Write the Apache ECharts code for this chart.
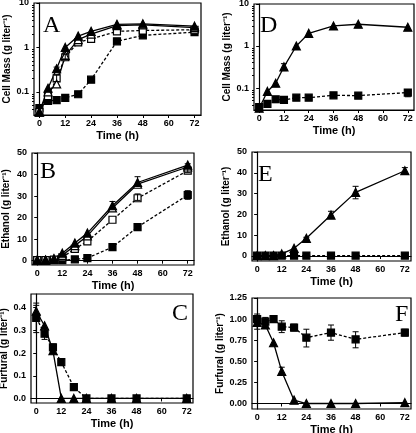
<!DOCTYPE html>
<html><head><meta charset="utf-8">
<script src="https://cdn.jsdelivr.net/npm/echarts@6/dist/echarts.min.js"></script>
<style>html,body{margin:0;padding:0;background:#fff}#c{width:416px;height:433px}</style>
</head><body><div id="c"></div>
<script>
// ---- data ----
const hours = [0, 4, 8, 12, 18, 24, 36, 48, 72];
const xTicks = [0, 12, 24, 36, 48, 60, 72];

// Panel A: cell mass (g/L), log scale
const aFilledTri = [0.035, 0.12, 0.33, 1.0, 1.8, 2.3, 3.3, 3.4, 3.0];
const aOpenTri   = [0.035, 0.10, 0.15, 0.65, 1.5, 2.0, 3.1, 3.2, 2.8];
const aOpenSq    = [0.035, 0.08, 0.20, 0.60, 1.3, 1.55, 2.3, 2.4, 2.5];
const aFilledSq  = [0.043, 0.062, 0.065, 0.073, 0.088, 0.187, 1.37, 1.87, 2.2];
const aErr = [[8, 0.17, 0.24], [12, 0.55, 0.7], [8, 0.28, 0.36]];

// Panel B: ethanol (g/L)
const bFilledTri = [0.3, 0.3, 1.0, 3.5, 8.2, 12.8, 25.5, 36.3, 44.4];
const bOpenTri   = [0.3, 0.3, 0.6, 2.5, 7.0, 11.5, 24.5, 35.5, 43.5];
const bOpenSq    = [0.3, 0.3, 0.5, 1.5, 5.5, 9.0, 19.0, 29.0, 41.8];
const bFilledSq  = [0.3, 0.3, 0.3, 0.3, 0.6, 1.2, 6.3, 15.6, 30.5];
const bErr = [[48, 34.5, 39], [36, 24, 27.5], [72, 43, 45], [48, 28, 31], [48, 14.5, 17], [72, 28.5, 32.5], [72, 41, 43]];

// Panel C: furfural (g/L)
const cTri = [0.384, 0.32, 0.21, 0.0, 0.0, 0.0, 0.0, 0.0, 0.0];
const cSq  = [0.355, 0.285, 0.225, 0.16, 0.05, 0.0, 0.0, 0.0, 0.0];
const cErr = [[0, 0.29, 0.41], [0, 0.37, 0.42], [4, 0.26, 0.31], [8, 0.2, 0.24], [18, 0.04, 0.065]];

// Panel D: cell mass (g/L), log scale
const dTri = [0.033, 0.083, 0.13, 0.32, 1.0, 2.0, 3.0, 3.3, 2.8];
const dSq  = [0.035, 0.042, 0.054, 0.052, 0.059, 0.059, 0.067, 0.066, 0.078];
const dErr = [[12, 0.26, 0.38], [8, 0.045, 0.06], [72, 0.062, 0.09]];

// Panel E: ethanol (g/L)
const eTri = [0.2, 0.2, 0.2, 1.0, 3.7, 8.5, 19.7, 30.6, 41.0];
const eSq  = [0.2, 0.2, 0.2, 0.2, 0.2, 0.2, 0.2, 0.2, 0.2];
const eErr = [[72, 39.5, 42.5], [48, 27.5, 33.5], [36, 18, 21.5], [24, 8, 9]];

// Panel F: furfural (g/L)
const fTri = [0.96, 0.93, 0.72, 0.38, 0.04, 0.0, 0.0, 0.0, 0.01];
const fSq  = [1.0, 0.97, 1.0, 0.91, 0.9, 0.78, 0.84, 0.76, 0.84];
const fErr = [[0, 0.94, 1.06], [4, 0.92, 1.02], [12, 0.84, 0.98], [18, 0.86, 0.94], [24, 0.67, 0.88], [36, 0.75, 0.93], [48, 0.66, 0.85], [72, 0.8, 0.88], [0, 0.88, 1.04], [12, 0.34, 0.43]];

const logMajor = [0.1, 1, 10];
const logMinor = [0.04,0.05,0.06,0.07,0.08,0.09,0.2,0.3,0.4,0.5,0.6,0.7,0.8,0.9,2,3,4,5,6,7,8,9];

// ---- layout ----
const FONT = 'Liberation Sans';
const grids = [
  {left: 34, top: 3, width: 167, height: 112},   // A
  {left: 32, top: 153, width: 162, height: 112}, // B
  {left: 31, top: 294, width: 162, height: 109}, // C
  {left: 254, top: 4, width: 160, height: 106},  // D
  {left: 252, top: 152, width: 159, height: 109},// E
  {left: 252, top: 298, width: 159, height: 111} // F
].map(g => Object.assign({show: true, borderColor: '#000', borderWidth: 1.2, backgroundColor: 'transparent', outerBoundsMode: 'none'}, g));

const xAxes = grids.map((g, i) => ({
  gridIndex: i, type: 'value', min: -2.5, max: 75,
  name: 'Time (h)', nameLocation: 'middle', nameGap: 15,
  nameTextStyle: {fontFamily: FONT, fontSize: 11, fontWeight: 'bold', color: '#000'},
  axisLine: {lineStyle: {color: '#000', width: 1.2}},
  axisTick: {customValues: xTicks, length: 3, lineStyle: {color: '#000', width: 1}},
  axisLabel: {customValues: xTicks, margin: 4, fontFamily: FONT, fontSize: 9, fontWeight: 'bold', color: '#000'},
  splitLine: {show: false}
}));

function yName(t) {
  return {name: t, nameLocation: 'middle', nameGap: 21,
    nameTextStyle: {fontFamily: FONT, fontSize: 10, fontWeight: 'bold', color: '#000'}};
}
function linY(i, min, max, ticks, dec, nm) {
  return Object.assign({
    gridIndex: i, type: 'value', min: min, max: max, position: 'left',
    axisLine: {show: true, lineStyle: {color: '#000', width: 1.2}},
    axisTick: {show: true, customValues: ticks, length: 3, lineStyle: {color: '#000', width: 1}},
    axisLabel: {customValues: ticks, margin: 5, fontFamily: FONT, fontSize: 9, fontWeight: 'bold', color: '#000',
      formatter: v => dec == null ? String(v) : Number(v).toFixed(dec)},
    splitLine: {show: false}
  }, yName(nm));
}
function logY(i, nm) {
  return Object.assign({
    gridIndex: i, type: 'log', logBase: 10, min: 0.03, max: 10, position: 'left',
    axisLine: {show: true, lineStyle: {color: '#000', width: 1.2}},
    axisTick: {show: true, customValues: logMajor, length: 3, lineStyle: {color: '#000', width: 1}},
    axisLabel: {customValues: logMajor, margin: 5, fontFamily: FONT, fontSize: 9, fontWeight: 'bold', color: '#000',
      formatter: v => String(+Number(v).toPrecision(3))},
    splitLine: {show: false}
  }, yName(nm));
}
function logMinorY(i) {
  return {gridIndex: i, type: 'log', logBase: 10, min: 0.03, max: 10, position: 'left', offset: 0,
    axisLine: {show: false, onZero: false}, axisLabel: {show: false}, splitLine: {show: false},
    axisTick: {show: true, customValues: logMinor, length: 2, lineStyle: {color: '#000', width: 1}}};
}
const massName = 'Cell Mass (g liter\u207B\u00B9)';
const ethName = 'Ethanol (g liter\u207B\u00B9)';
const furName = 'Furfural (g liter\u207B\u00B9)';
const yAxes = [
  logY(0, massName),                       // 0 A
  linY(1, -2, 50, [0,10,20,30,40,50], null, ethName), // 1 B
  linY(2, -0.02, 0.46, [0,0.1,0.2,0.3,0.4], 1, furName), // 2 C
  logY(3, massName),                       // 3 D
  linY(4, -2.4, 50, [0,10,20,30,40,50], null, ethName), // 4 E
  linY(5, -0.065, 1.25, [0,0.25,0.5,0.75,1.0,1.25], 2, furName), // 5 F
  logMinorY(0),                            // 6
  logMinorY(3)                             // 7
];

function pts(arr) { return hours.map((h, k) => [h, arr[k]]); }
function line(panel, arr, sym, filled, dashed) {
  return {type: 'line', xAxisIndex: panel, yAxisIndex: panel, data: pts(arr),
    symbol: sym, symbolSize: sym === 'triangle' ? 8 : 7, animation: false,
    lineStyle: {color: '#000', width: 1.3, type: dashed ? [3, 2] : 'solid'},
    itemStyle: {color: filled ? '#000' : '#fff', borderColor: '#000', borderWidth: 1.2},
    z: 3};
}
function errs(panel, list) {
  return {type: 'custom', xAxisIndex: panel, yAxisIndex: panel, data: list, animation: false, z: 4,
    encode: {x: 0, y: [1, 2]},
    renderItem: (params, api) => {
      const x = api.value(0);
      const p1 = api.coord([x, api.value(1)]);
      const p2 = api.coord([x, api.value(2)]);
      const w = 3;
      const st = {stroke: '#000', lineWidth: 1};
      return {type: 'group', children: [
        {type: 'line', shape: {x1: p1[0], y1: p1[1], x2: p2[0], y2: p2[1]}, style: st},
        {type: 'line', shape: {x1: p1[0]-w, y1: p1[1], x2: p1[0]+w, y2: p1[1]}, style: st},
        {type: 'line', shape: {x1: p2[0]-w, y1: p2[1], x2: p2[0]+w, y2: p2[1]}, style: st}
      ]};
    }};
}

const series = [
  line(0, aFilledSq, 'rect', true, true),
  line(0, aOpenSq, 'rect', false, true),
  line(0, aOpenTri, 'triangle', false, false),
  line(0, aFilledTri, 'triangle', true, false),
  errs(0, aErr),
  line(1, bFilledSq, 'rect', true, true),
  line(1, bOpenSq, 'rect', false, true),
  line(1, bOpenTri, 'triangle', false, false),
  line(1, bFilledTri, 'triangle', true, false),
  errs(1, bErr),
  line(2, cSq, 'rect', true, true),
  line(2, cTri, 'triangle', true, false),
  errs(2, cErr),
  line(3, dSq, 'rect', true, true),
  line(3, dTri, 'triangle', true, false),
  errs(3, dErr),
  line(4, eSq, 'rect', true, true),
  line(4, eTri, 'triangle', true, false),
  errs(4, eErr),
  line(5, fSq, 'rect', true, true),
  line(5, fTri, 'triangle', true, false),
  errs(5, fErr)
];

const letters = [['A', 43, 14], ['B', 40, 160], ['C', 172, 302], ['D', 260, 14], ['E', 258, 163], ['F', 395, 303]];
const graphic = letters.map(l => ({type: 'text', left: l[1], top: l[2], z: 10,
  style: {text: l[0], fontFamily: 'Liberation Serif', fontSize: 24, fill: '#000'}}));

const chart = echarts.init(document.getElementById('c'), null, {renderer: 'canvas'});
chart.setOption({animation: false, backgroundColor: '#fff', grid: grids, xAxis: xAxes, yAxis: yAxes, series: series, graphic: graphic});
</script></body></html>
